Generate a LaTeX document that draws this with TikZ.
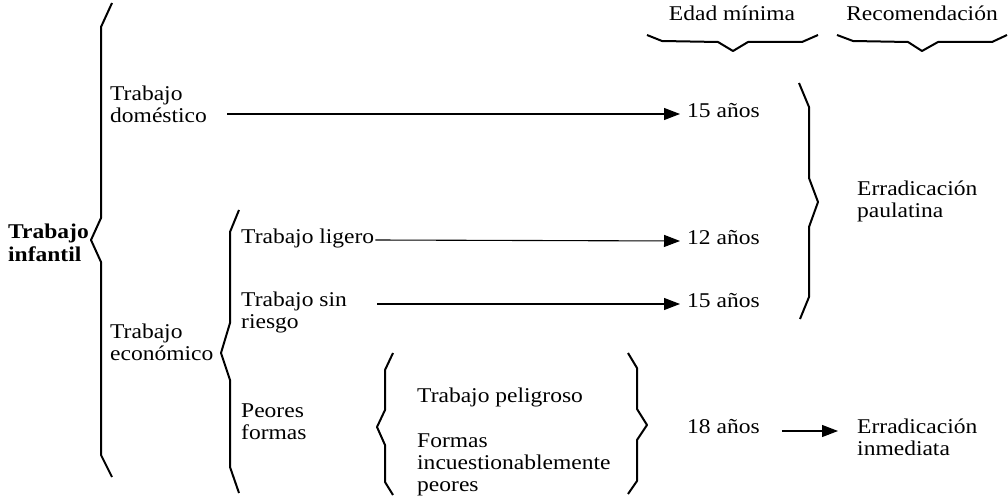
\documentclass[tikz,border=0pt]{standalone}
\usepackage{fontspec}
\setmainfont{Liberation Serif}[FakeStretch=1.12]
\usepackage{tikz}
\usetikzlibrary{arrows.meta, positioning, calc}

\tikzset{
  txt/.style={anchor=base west, align=left, inner sep=0pt, font=\fontsize{21}{22}\selectfont},
  brace/.style={line width=2pt, line join=round},
  arr/.style={line width=1.1pt, -{Triangle[length=16pt,width=12pt]}},
}

\begin{document}
\begin{tikzpicture}[x=1pt, y=-1pt]
      \useasboundingbox (0,0) rectangle (1008,497);

      \node[txt, anchor=base] (edad) at (732,21) {Edad mínima};
      \node[txt, anchor=base] (recom) at (922,21) {Recomendación};
      \draw[brace] (647,35) -- ++(15,6) -- ++(56,1) -- ++(15,9) -- ++(15,-9) -- ++(54,0) -- ++(16,-7);
      \draw[brace] (837,35) -- ++(16,6) -- ++(55,1) -- ++(14,9) -- ++(16,-9) -- ++(54,0) -- ++(15,-7);

      \node[txt, font=\bfseries\fontsize{21}{23}\selectfont] (infantil) at (8,261) {Trabajo\\infantil};
      \draw[brace] (112,3) -- ++(-11,24) -- ++(0,191) -- ++(-10,22) -- ++(10,22) -- ++(0,193) -- ++(11,22);

      \node[txt] (domestico) at (110,123) {Trabajo\\doméstico};
      \node[txt] (economico) at (110,360) {Trabajo\\económico};
      \draw[brace] (239,210) -- ++(-9,22) -- ++(0,91) -- ++(-9,30) -- ++(9,27) -- ++(0,87) -- ++(9,26);

      \node[txt] (ligero) at (241,243) {Trabajo ligero};
      \node[txt] (sinriesgo) at (241,328) {Trabajo sin\\riesgo};
      \node[txt] (peores) at (241,439) {Peores\\formas};

      \draw[brace] (393,353) -- ++(-8,17) -- ++(0,40) -- ++(-8,17) -- ++(8,18) -- ++(0,37) -- ++(8,13);
      \node[txt] (peligroso) at (417,402) {Trabajo peligroso};
      \node[txt] (incuest) at (417,491) {Formas\\incuestionablemente\\peores};
      \draw[brace] (628,353) -- ++(9,15) -- ++(0,41) -- ++(10,16) -- ++(-10,15) -- ++(0,41) -- ++(-9,13);

      \node[txt] (edad15a) at (687,118) {15 años};
      \node[txt] (edad12) at (687,244) {12 años};
      \node[txt] (edad15b) at (687,307) {15 años};
      \node[txt] (edad18) at (687,433) {18 años};

      \draw[brace] (799,83) -- ++(10,24) -- ++(0,71) -- ++(9,24) -- ++(-9,25) -- ++(0,70) -- ++(-9,22);
      \node[txt] (paulatina) at (857,217) {Erradicación\\paulatina};
      \node[txt] (inmediata) at (857,455) {Erradicación\\inmediata};

      \draw[arr] ($(domestico.east |- edad15a.base)+(20,-4)$) -- ($(edad15a.base west)+(-7,-4)$);
      \draw[arr] ($(ligero.base east)+(1,-3)$) -- ($(edad12.base west)+(-7,-3)$);
      \draw[arr] ($(sinriesgo.east |- edad15b.base)+(30,-3)$) -- ($(edad15b.base west)+(-7,-3)$);
      \draw[arr] ($(edad18.base east)+(22,-2)$) -- ($(inmediata.west |- edad18.base)+(-19,-2)$);
    \end{tikzpicture}
\end{document}
